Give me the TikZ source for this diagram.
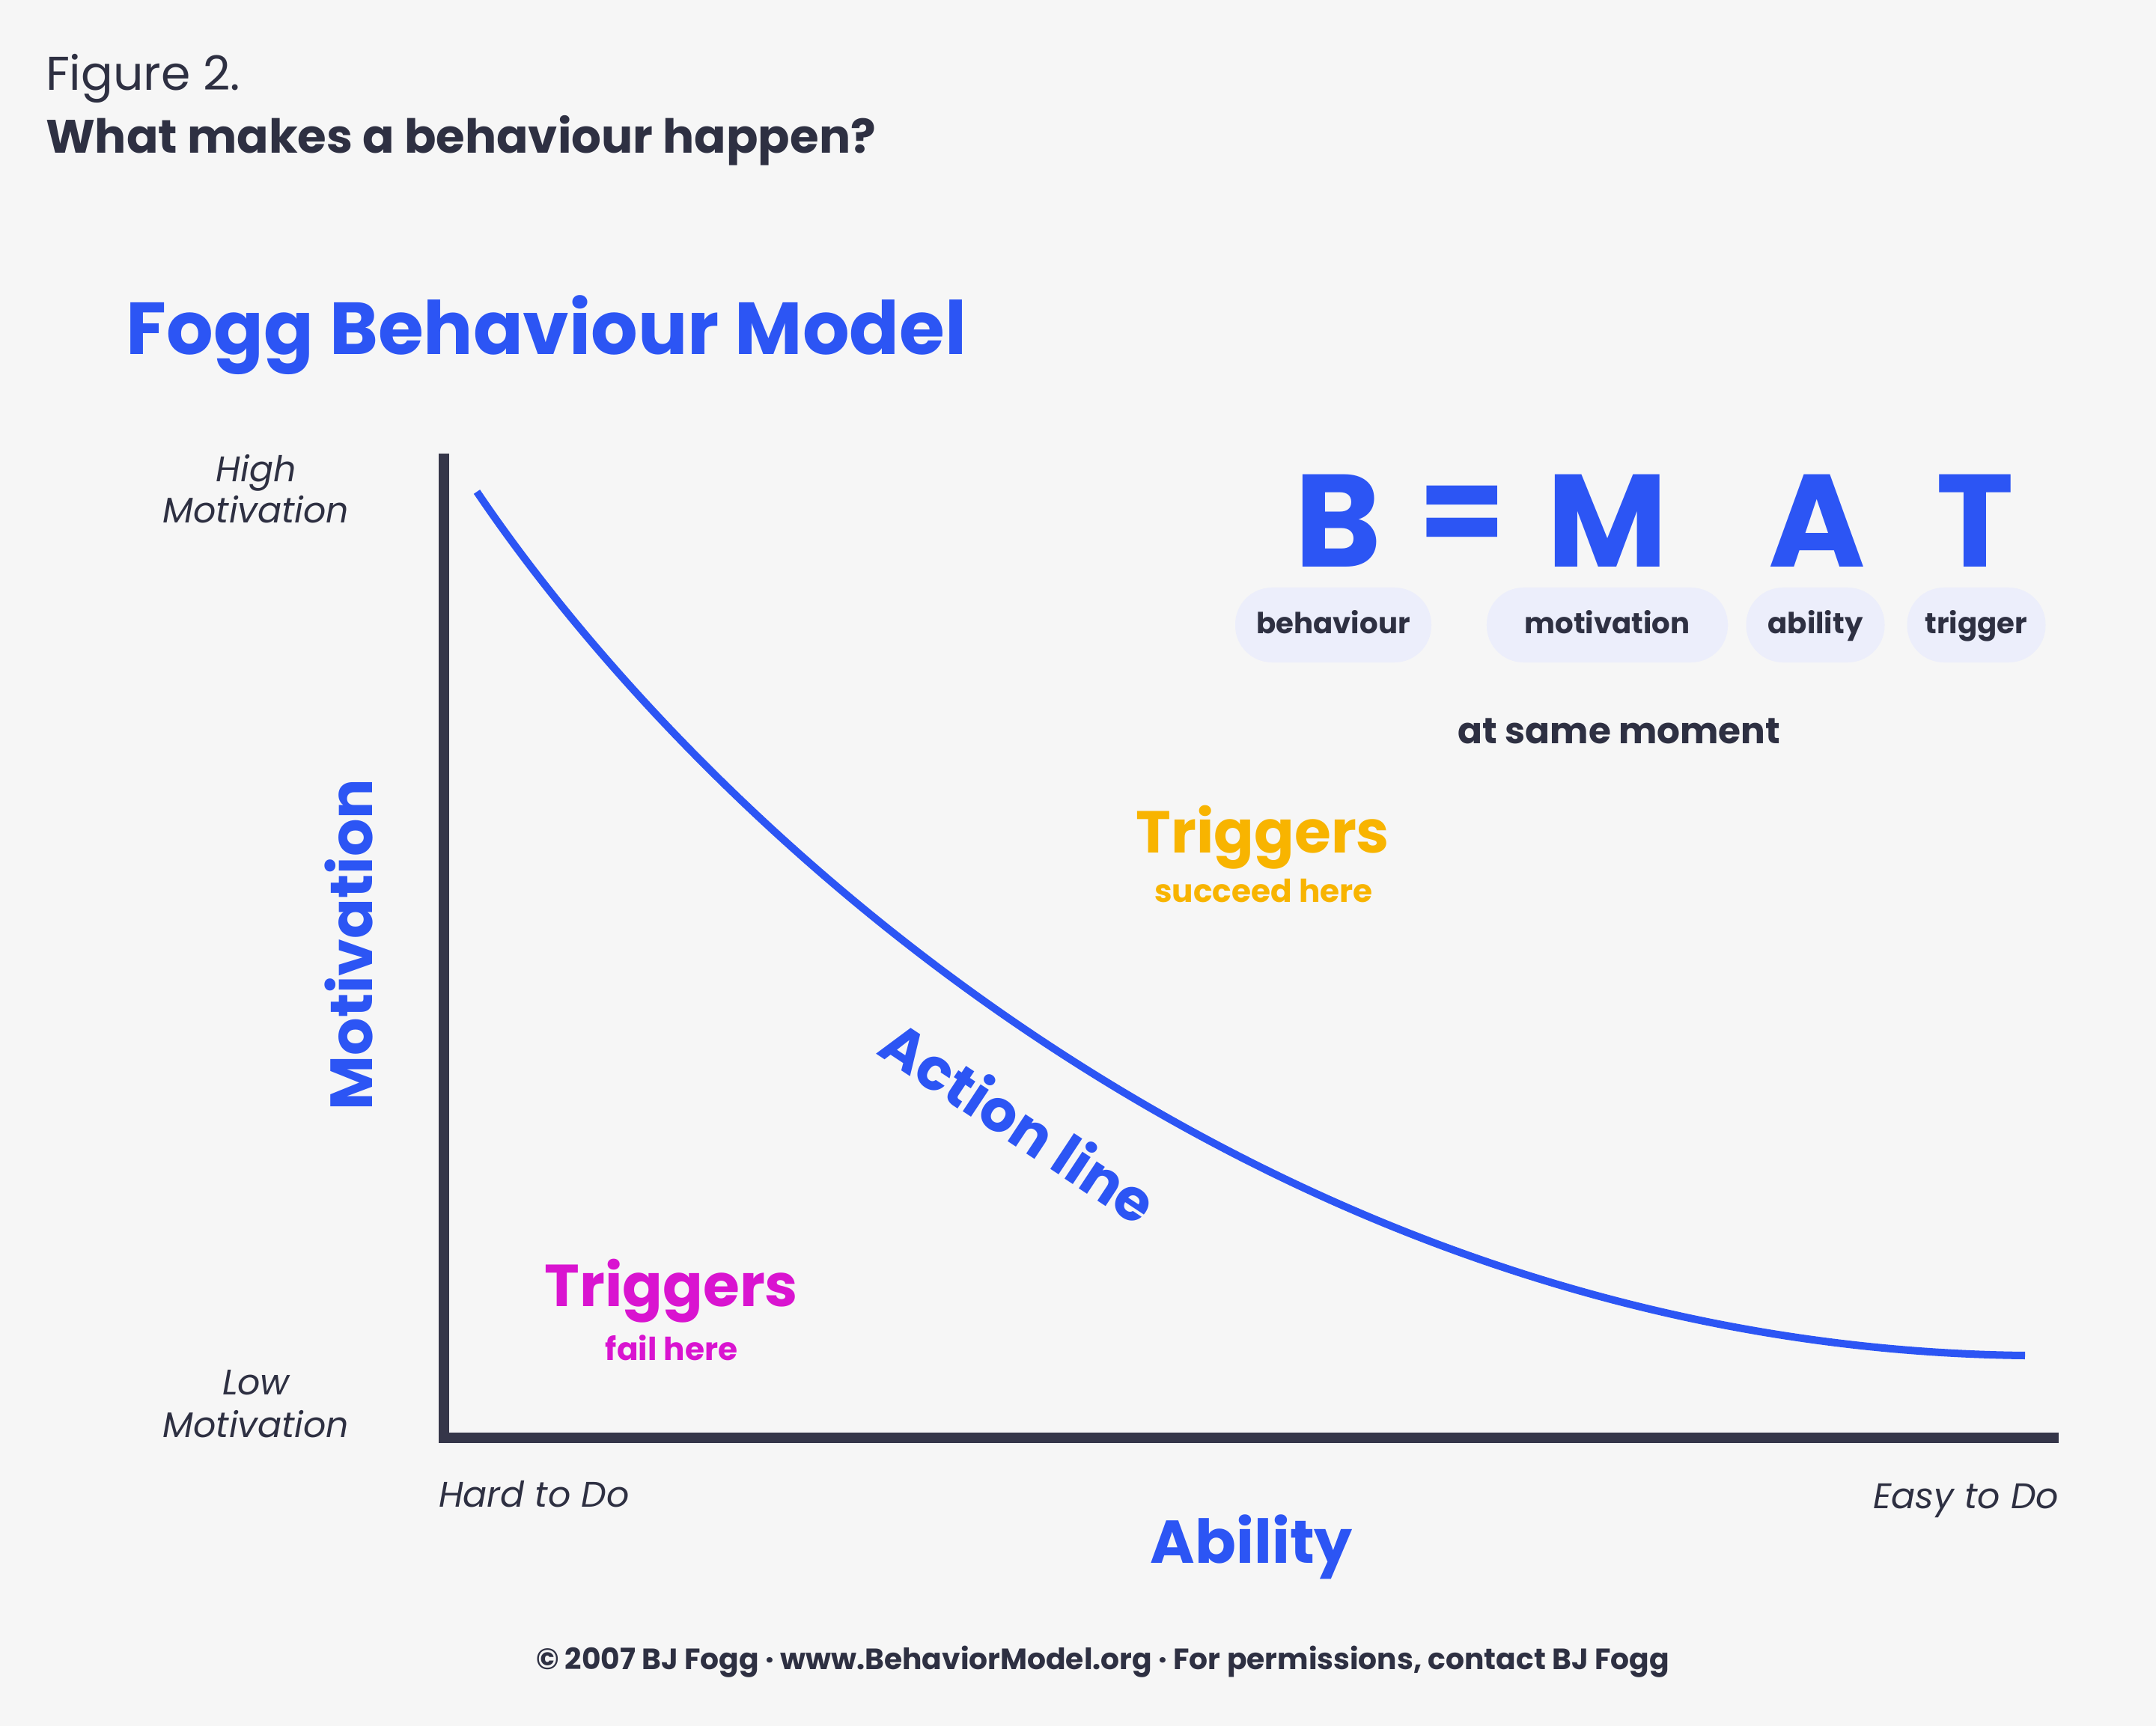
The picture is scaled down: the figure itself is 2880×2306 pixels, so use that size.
\documentclass[tikz,border=0pt]{standalone}
\usepackage{fontspec}
\setmainfont{Poppins}
\definecolor{bgc}{HTML}{F6F6F6}
\definecolor{darkc}{HTML}{2E3042}
\definecolor{axisc}{HTML}{353649}
\definecolor{bluec}{HTML}{2C55F4}
\definecolor{orangec}{HTML}{F8B400}
\definecolor{magc}{HTML}{D914D0}
\definecolor{pillc}{HTML}{ECEEFB}
\newcommand{\fsz}[1]{\fontsize{#1}{#1}\selectfont}
\tikzset{
  txt/.style={inner sep=0pt, outer sep=0pt},
  darktxt/.style={txt, text=darkc},
  bluetxt/.style={txt, text=bluec},
  axisline/.style={draw=axisc, line width=4.2pt, line join=miter, line cap=butt},
  actionline/.style={draw=bluec, line width=2.85pt},
  pill/.style={fill=pillc, rounded corners=14pt, minimum height=28.45pt, inner sep=0pt,
     text height=9pt, text depth=2.5pt, text=darkc, font=\fsz{11}\bfseries},
  letter/.style={bluetxt, anchor=base, font=\fsz{50}\bfseries},
  axlabel/.style={darktxt, anchor=base, font=\fsz{13.5}\itshape}
}
\begin{document}
\begin{tikzpicture}[x=0.01cm,y=-0.01cm]
\fill[bgc] (0,0) rectangle (2880,2306);
\useasboundingbox (0,0) rectangle (2880,2306);

% header
\node[darktxt, anchor=base west, font=\fsz{18}] (fig) at (61,121) {Figure 2.};
\node[darktxt, anchor=base west, font=\fsz{17.8}\bfseries] (question) at (61,205) {What makes a behaviour happen?};
\node[bluetxt, anchor=base west, font=\fsz{28}\bfseries] (title) at (169,474) {Fogg Behaviour Model};

% axes
\coordinate (ytop) at (593,606);
\coordinate (orig) at (593,1921);
\coordinate (xend) at (2750,1921);
\draw[axisline] (ytop) -- (orig) -- (xend);

% action line
\coordinate (curvestart) at (637,657);
\coordinate (curveend) at (2705,1811);
\draw[actionline] (curvestart) .. controls (950,1120) and (1700,1800) .. (curveend);

% B = M A T
\node[letter] (lB) at (1787,757) {B};
\node[bluetxt, anchor=center, font=\fsz{48}\bfseries] (lEq) at (1953,696) {=};
\node[letter] (lM) at (2147,757) {M};
\node[letter] (lA) at (2427,757) {A};
\node[letter] (lT) at (2638,757) {T};

\node[pill, minimum width=74.5pt] (pB) at (1781,835) {behaviour};
\node[pill, minimum width=91.6pt] (pM) at (2147,835) {motivation};
\node[pill, minimum width=52.6pt] (pA) at (2425,835) {ability};
\node[pill, minimum width=52.6pt] (pT) at (2640,835) {trigger};

\node[darktxt, anchor=base, font=\fsz{13.8}\bfseries] (moment) at (2163,993) {at same moment};

% triggers
\node[txt, text=orangec, anchor=base, font=\fsz{22.5}\bfseries] (trigS) at (1687,1139) {Triggers};
\node[txt, text=orangec, anchor=base, font=\fsz{12}\bfseries] (trigSsub) at (1688,1205) {succeed here};
\node[txt, text=magc, anchor=base, font=\fsz{22.5}\bfseries] (trigF) at (897,1745) {Triggers};
\node[txt, text=magc, anchor=base, font=\fsz{12}\bfseries] (trigFsub) at (897,1817) {fail here};

% action line label
\node[bluetxt, anchor=base, rotate=-33.5, font=\fsz{22}\bfseries] (actlabel) at (1345,1524) {Action line};

% axis titles
\node[bluetxt, anchor=base, rotate=90, font=\fsz{22.6}\bfseries] (ylab) at (497,1262) {Motivation};
\node[bluetxt, anchor=base, font=\fsz{23}\bfseries] (xlab) at (1672,2088) {Ability};

% axis end labels
\node[axlabel] (hm1) at (342,643) {High};
\node[axlabel] (hm2) at (342,698) {Motivation};
\node[axlabel] (lm1) at (342,1863) {Low};
\node[axlabel] (lm2) at (342,1920) {Motivation};
\node[axlabel, anchor=base west] (hard) at (586,2013) {Hard to Do};
\node[axlabel, anchor=base east] (easy) at (2750,2015) {Easy to Do};

% footer
\node[darktxt, anchor=base, font=\fsz{11.15}\bfseries] (footer) at (1473,2230) {© 2007 BJ Fogg · www.BehaviorModel.org · For permissions, contact BJ Fogg};
\end{tikzpicture}
\end{document}
